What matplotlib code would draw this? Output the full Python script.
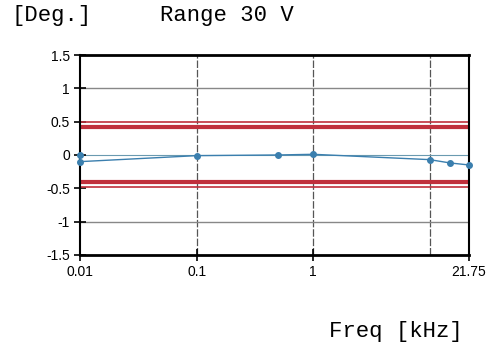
import numpy as np
import matplotlib.pyplot as plt
from matplotlib.ticker import FixedLocator, FixedFormatter, NullLocator

# Measured phase deviation [deg] vs frequency [kHz]
freq = [0.01, 0.01, 0.1, 0.5, 1.0, 10.0, 15.0, 21.75]
phase = [0.0, -0.10, -0.01, 0.0, 0.01, -0.07, -0.12, -0.15]

# Limit lines
upper_outer = 0.5
upper_inner = 0.42
lower_inner = -0.40
lower_outer = -0.48

xticks = [0.01, 0.1, 1, 21.75]
xtick_labels = ["0.01", "0.1", "1", "21.75"]
yticks = [-1.5, -1, -0.5, 0, 0.5, 1, 1.5]
ytick_labels = ["-1.5", "-1", "-0.5", "0", "0.5", "1", "1.5"]

fig = plt.figure(figsize=(4.93, 3.51), dpi=100)
ax = fig.add_axes([0.163, 0.274, 0.788, 0.569])
ax.set_xscale("log")
ax.set_xlim(0.01, 21.75)
ax.set_ylim(-1.5, 1.5)

# grid lines
for gx in [0.1, 1, 10]:
    ax.axvline(gx, color="#555555", lw=0.9, ls=(0, (6, 1.5)), zorder=1)
for gy in [1, -1]:
    ax.axhline(gy, color="#888888", lw=1.0, zorder=1)
ax.axhline(0, color="#6a9ab0", lw=0.8, zorder=1)

# limits
ax.axhline(upper_outer, color="#c0303c", lw=1.2, zorder=2)
ax.axhline(upper_inner, color="#c0303c", lw=3.0, zorder=2)
ax.axhline(lower_inner, color="#c0303c", lw=3.0, zorder=2)
ax.axhline(lower_outer, color="#c0303c", lw=1.2, zorder=2)

# measured data
ax.plot(freq, phase, color="#3b7fae", lw=1.0, marker="o", ms=4, zorder=3, clip_on=False)

ax.xaxis.set_major_locator(FixedLocator(xticks))
ax.xaxis.set_major_formatter(FixedFormatter(xtick_labels))
ax.xaxis.set_minor_locator(NullLocator())
ax.yaxis.set_major_locator(FixedLocator(yticks))
ax.yaxis.set_major_formatter(FixedFormatter(ytick_labels))
ax.tick_params(direction="inout", length=8, width=1.2, labelsize=10, colors="black")
for lbl in ax.get_xticklabels() + ax.get_yticklabels():
    lbl.set_family("Liberation Sans")

for side in ["top", "bottom"]:
    ax.spines[side].set_linewidth(2.0)
for side in ["left", "right"]:
    ax.spines[side].set_linewidth(1.5)

fig.text(0.024, 0.94, "[Deg.]", family="Liberation Mono", fontsize=16)
fig.text(0.325, 0.94, "Range 30 V", family="Liberation Mono", fontsize=16)
fig.text(0.668, 0.04, "Freq [kHz]", family="Liberation Mono", fontsize=16)

fig.savefig("out.png", dpi=100)
